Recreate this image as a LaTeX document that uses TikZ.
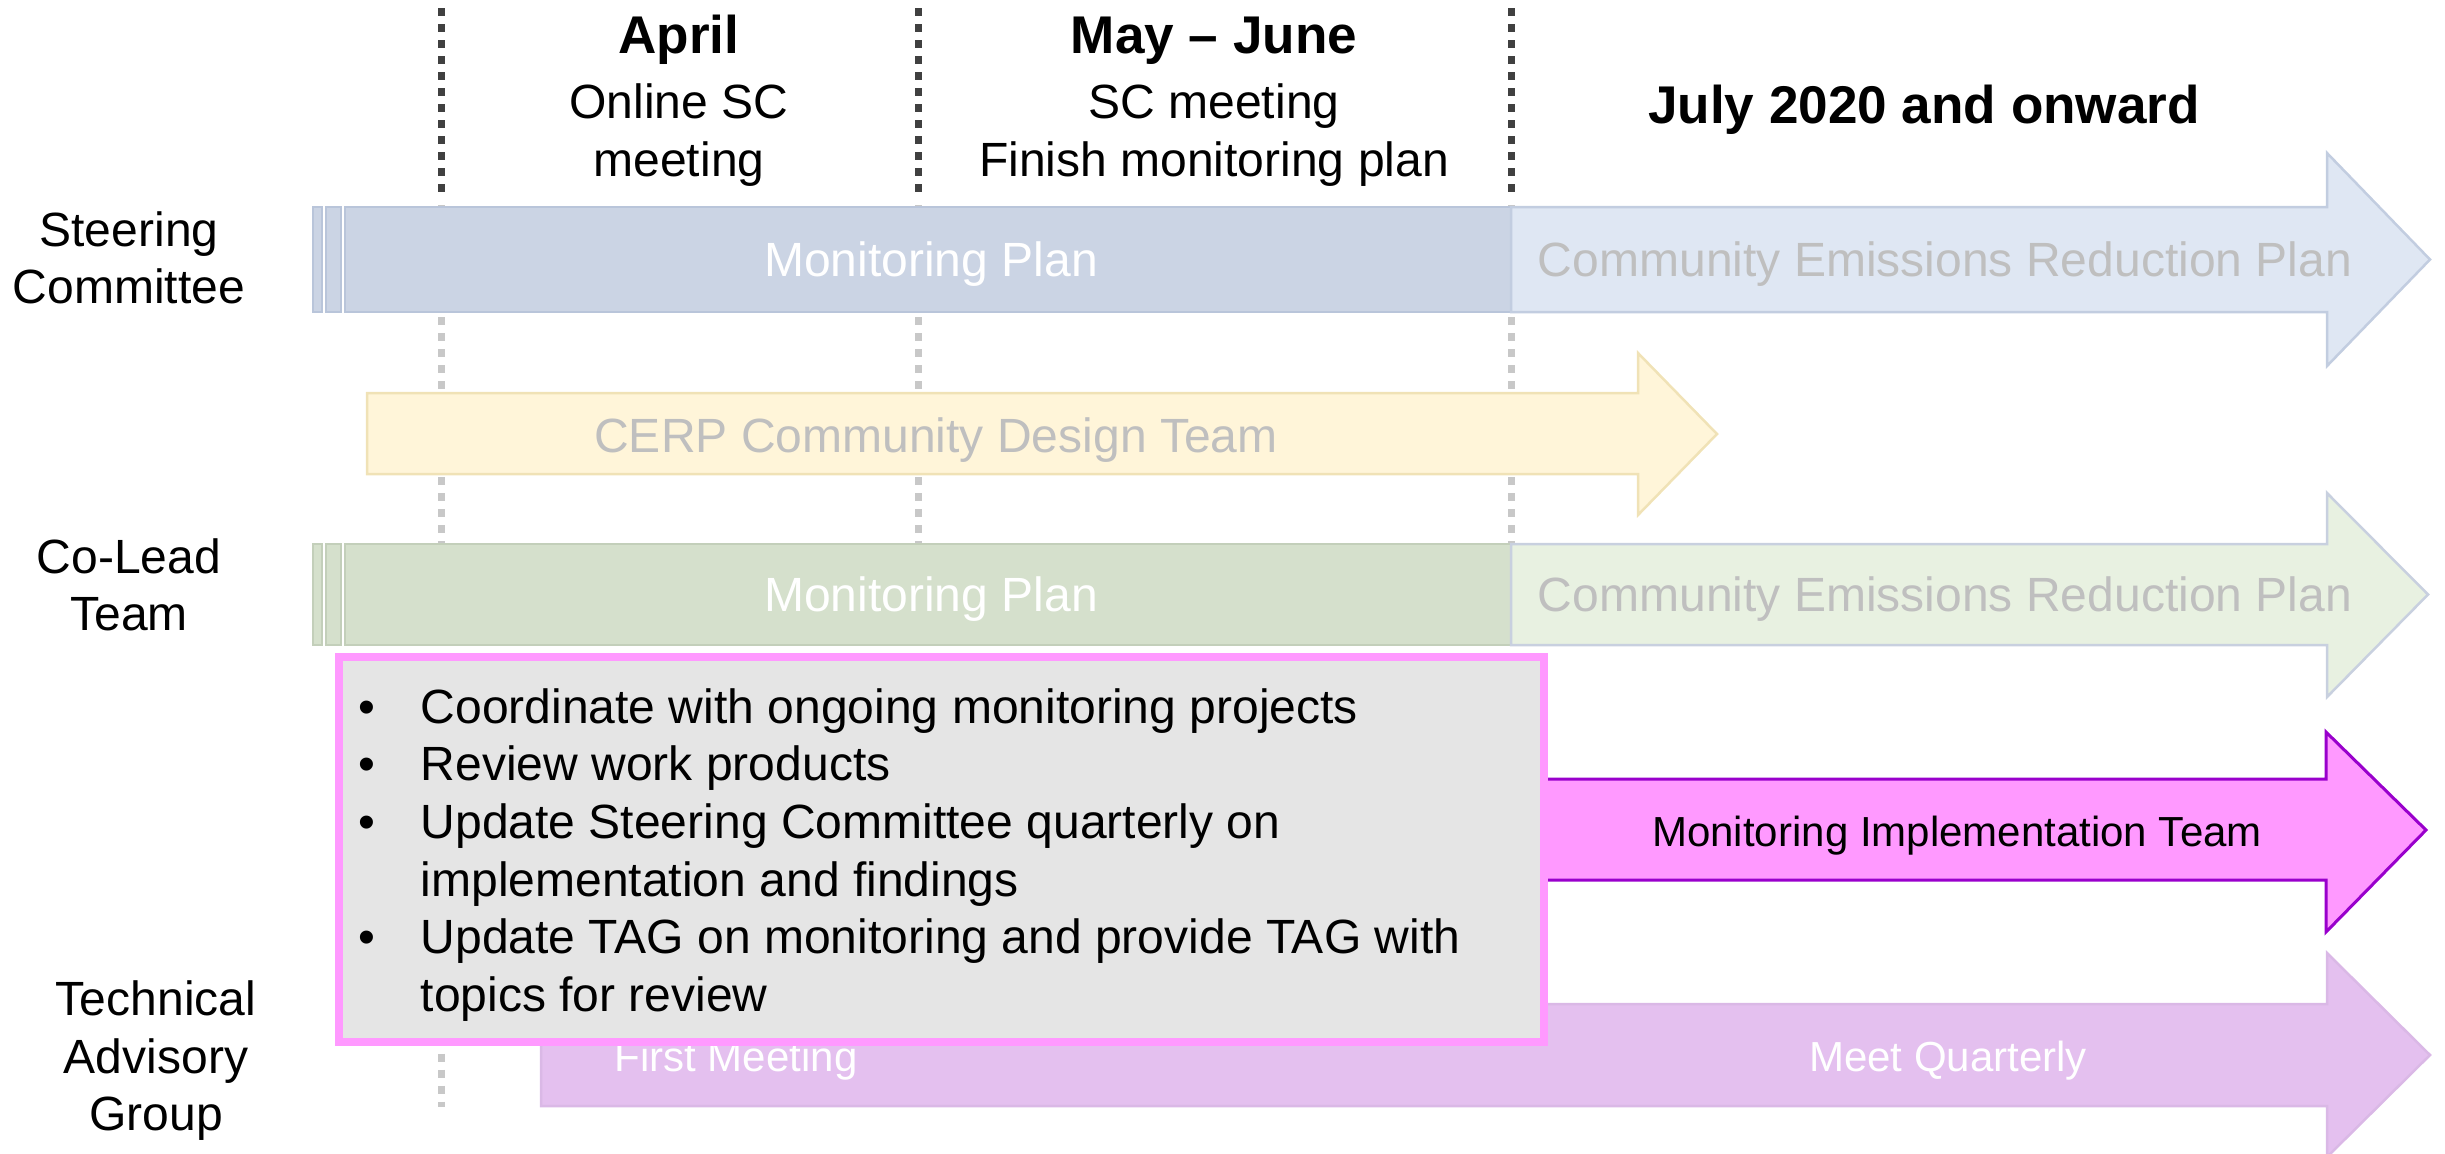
\documentclass[tikz,border=0pt]{standalone}
\usepackage{fontspec}
\setmainfont{Liberation Sans}
\definecolor{scfill}{HTML}{CBD4E4}
\definecolor{scedge}{HTML}{B9C5DA}
\definecolor{sclight}{HTML}{DFE7F3}
\definecolor{scledge}{HTML}{C2CDE0}
\definecolor{clfill}{HTML}{D5E0CC}
\definecolor{cledge}{HTML}{C3CFBA}
\definecolor{cllight}{HTML}{E8F1E1}
\definecolor{clledge}{HTML}{C8D0DF}
\definecolor{cerpfill}{HTML}{FFF5D9}
\definecolor{cerpedge}{HTML}{F0E2B6}
\definecolor{greytxt}{HTML}{BFBFBF}
\definecolor{mitfill}{HTML}{FF99FF}
\definecolor{mitedge}{HTML}{9900CC}
\definecolor{tagfill}{HTML}{E4C0EF}
\definecolor{tagedge}{HTML}{DAB8E6}
\definecolor{boxfill}{HTML}{E5E5E5}
\definecolor{darkdots}{HTML}{404040}
\definecolor{lightdots}{HTML}{C8C8C8}
\begin{document}
\begin{tikzpicture}[x=0.01cm,y=-0.01cm,
  lbl/.style={font=\fontsize{13.66}{16.4}\selectfont, anchor=base, inner sep=0pt},
  hdr/.style={font=\fontsize{15.1}{18}\selectfont\bfseries, anchor=base, inner sep=0pt},
  smalllbl/.style={font=\fontsize{11.95}{14}\selectfont, anchor=base, inner sep=0pt},
  bul/.style={font=\fontsize{13.66}{16.4}\selectfont, anchor=base west, inner sep=0pt},
  darkdot/.style={draw=darkdots, line width=0.07cm, dash pattern=on 0.08cm off 0.08cm},
  lightdot/.style={draw=lightdots, line width=0.07cm, dash pattern=on 0.08cm off 0.08cm},
  stripe/.style={line width=0.025cm},
]
\useasboundingbox (0,0) rectangle (2445,1153);
\clip (0,0) rectangle (2445,1153);

% dotted timeline separators
\foreach \xx in {441,918,1511}{
  \draw[darkdot] (\xx,8) -- (\xx,200);
  \draw[lightdot] (\xx,205) -- (\xx,1107);
}

% headers
\node[hdr] (apr) at (679,53) {April};
\node[lbl] (apr1) at (679,118) {Online SC};
\node[lbl] (apr2) at (679,176) {meeting};
\node[hdr] (may) at (1214,53) {May – June};
\node[lbl] (may1) at (1214,118) {SC meeting};
\node[lbl] (may2) at (1214,176) {Finish monitoring plan};
\node[hdr] (jul) at (1924,123) {July 2020 and onward};

% row labels
\node[lbl] (sc1) at (129,246) {Steering};
\node[lbl] (sc2) at (129,303) {Committee};
\node[lbl] (cl1) at (129,573) {Co-Lead};
\node[lbl] (cl2) at (129,630) {Team};
\node[lbl] (tag1) at (156,1015) {Technical};
\node[lbl] (tag2) at (156,1073) {Advisory};
\node[lbl] (tag3) at (156,1130) {Group};

% Steering Committee row
\draw[stripe, fill=scfill, draw=scedge] (313,207) rectangle (322,312);
\draw[stripe, fill=scfill, draw=scedge] (326,207) rectangle (341,312);
\draw[stripe, fill=scfill, draw=scedge] (345,207) rectangle (1511,312);
\draw[stripe, fill=sclight, draw=scledge] (1511,207) -- (2327,207) -- (2327,153) -- (2430,259.5) -- (2327,366) -- (2327,312) -- (1511,312) -- cycle;
\node[lbl, text=white] (scmp) at (931,276) {Monitoring Plan};
\node[lbl, text=greytxt] (sccerp) at (1945,276) {Community Emissions Reduction Plan};

% CERP Community Design Team
\draw[stripe, fill=cerpfill, draw=cerpedge] (367,393) -- (1638,393) -- (1638,353) -- (1717,434) -- (1638,515) -- (1638,474) -- (367,474) -- cycle;
\node[lbl, text=greytxt] (cdt) at (936,452) {CERP Community Design Team};

% Co-Lead Team row
\draw[stripe, fill=clfill, draw=cledge] (313,544) rectangle (322,645);
\draw[stripe, fill=clfill, draw=cledge] (326,544) rectangle (341,645);
\draw[stripe, fill=clfill, draw=cledge] (345,544) rectangle (1511,645);
\draw[stripe, fill=cllight, draw=clledge] (1511,544) -- (2327,544) -- (2327,493) -- (2428,594.5) -- (2327,697) -- (2327,645) -- (1511,645) -- cycle;
\node[lbl, text=white] (clmp) at (931,611) {Monitoring Plan};
\node[lbl, text=greytxt] (clcerp) at (1945,611) {Community Emissions Reduction Plan};

% Monitoring Implementation Team
\draw[line width=0.03cm, fill=mitfill, draw=mitedge] (1500,779) -- (2326,779) -- (2326,732) -- (2426,830) -- (2326,932) -- (2326,880) -- (1500,880) -- cycle;
\node[smalllbl] (mit) at (1957,846) {Monitoring Implementation Team};

% Technical Advisory Group
\draw[stripe, fill=tagfill, draw=tagedge] (541,1004) -- (2327,1004) -- (2327,953) -- (2430,1055) -- (2327,1157) -- (2327,1106) -- (541,1106) -- cycle;
\node[smalllbl, text=white] (fm) at (736,1071) {First Meeting};
\node[smalllbl, text=white] (mq) at (1948,1071) {Meet Quarterly};

% callout box
\draw[line width=0.08cm, draw=mitfill, fill=boxfill] (339,657) rectangle (1544,1042);
\foreach \yy/\nm in {723/b1,780/b2,838/b3,953/b4}{
  \node[bul] (\nm) at (358,\yy) {•};
}
\node[bul] (t1) at (420,723) {Coordinate with ongoing monitoring projects};
\node[bul] (t2) at (420,780) {Review work products};
\node[bul] (t3) at (420,838) {Update Steering Committee quarterly on};
\node[bul] (t3b) at (420,896) {implementation and findings};
\node[bul] (t4) at (420,953) {Update TAG on monitoring and provide TAG with};
\node[bul] (t4b) at (420,1011) {topics for review};
\end{tikzpicture}
\end{document}
